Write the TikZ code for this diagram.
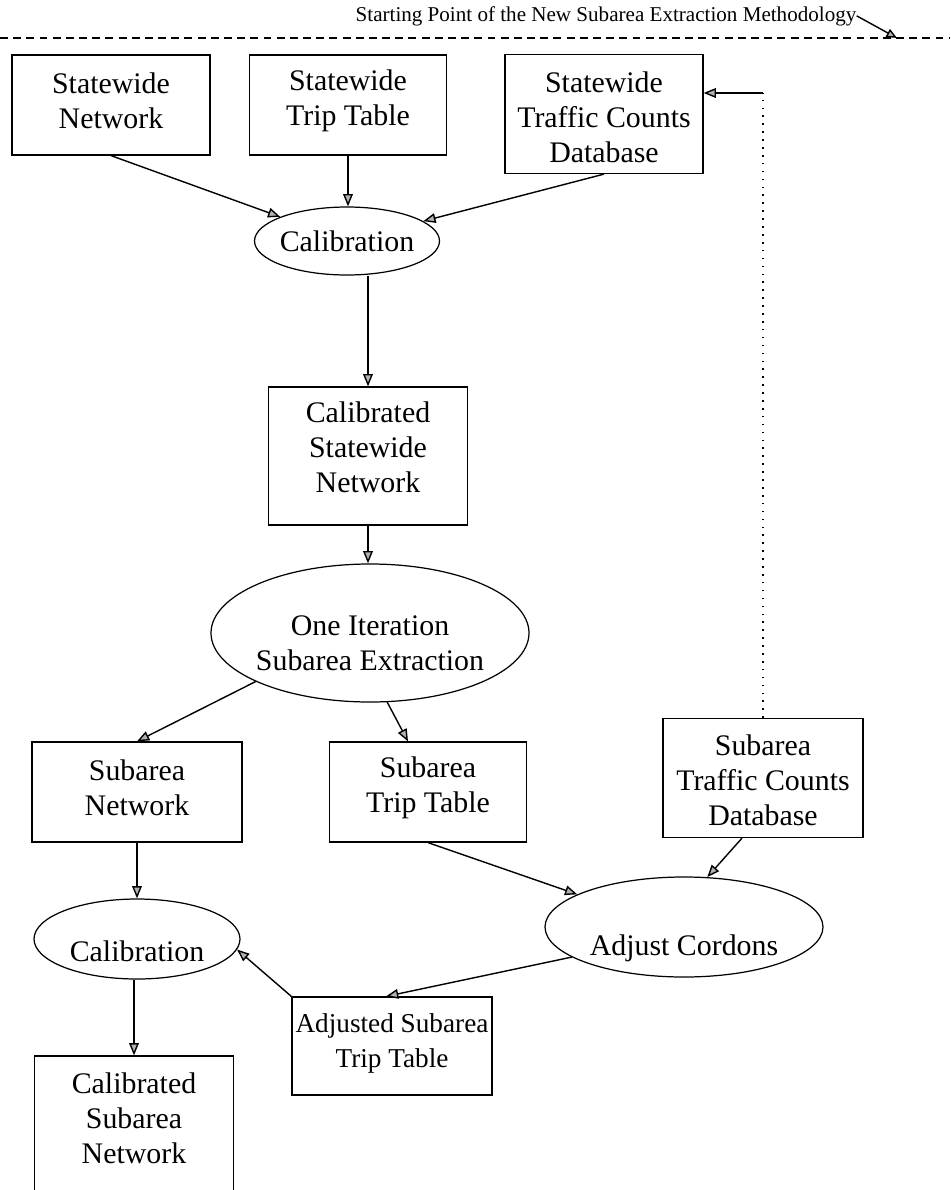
\documentclass[tikz,border=0pt]{standalone}
\usepackage{fontspec}
\setmainfont{Liberation Serif}
\usetikzlibrary{shapes.geometric,arrows.meta,calc}
\begin{document}
\begin{tikzpicture}[x=0.02cm,y=-0.02cm,
  box/.style={draw, line width=0.7pt, inner sep=0pt},
  oval/.style={ellipse, draw, line width=0.7pt, inner sep=0pt},
  sz/.style 2 args={minimum width=#1*0.02cm, minimum height=#2*0.02cm},
  txt/.style={align=center, font=\fontsize{17}{19.9}\selectfont, inner sep=0pt},
  arr/.style={-{Triangle[length=7pt,width=5.5pt,fill=gray!60]}, line width=0.8pt},
  dashline/.style={line width=0.7pt, dash pattern=on 4.5pt off 3pt},
  dotline/.style={line width=0.9pt, dash pattern=on 0.9pt off 3.6pt}
]
\useasboundingbox (0,0) rectangle (950,1190);
\fill[white] (0,0) rectangle (950,1190);

% top annotation
\coordinate (dl) at (0,38);
\coordinate (dr) at (950,38);
\draw[dashline] (dl) -- (dr);
\node[inner sep=0pt, font=\fontsize{12}{14}\selectfont, anchor=base] (start) at (606,21) {Starting Point of the New Subarea Extraction Methodology};
\coordinate (stip) at (897,38);
\draw[arr, -{Triangle[length=6pt,width=5pt,fill=gray!60]}] (start.east) -- (stip);

% boxes and ovals
\node[box, sz={198}{100}] (b1) at (111,105) {};
\node[txt] (t1) at (111,101) {Statewide\\Network};
\node[box, sz={197}{100}] (b2) at (348,105) {};
\node[txt] (t2) at (348,101) {Statewide\\Trip Table};
\node[box, sz={198}{119}] (b3) at (604,114) {};
\node[txt] (t3) at (604,117) {Statewide\\Traffic Counts\\Database};

\node[oval, sz={185}{68}] (e1) at (347,241) {};
\node[txt] (te1) at (347,241) {Calibration};

\node[box, sz={199}{138}] (b4) at (368,456) {};
\node[txt] (t4) at (368,447) {Calibrated\\Statewide\\Network};

\node[oval, sz={318}{138}] (e2) at (370,633) {};
\node[txt] (te2) at (370,643) {One Iteration\\Subarea Extraction};

\node[box, sz={210}{100}] (b5) at (137,792) {};
\node[txt] (t5) at (137,788) {Subarea\\Network};
\node[box, sz={197}{100}] (b6) at (428,792) {};
\node[txt] (t6) at (428,788) {Subarea\\Trip Table};
\node[box, sz={200}{119}] (b7) at (763,778) {};
\node[txt] (t7) at (763,780) {Subarea\\Traffic Counts\\Database};

\node[oval, sz={278}{100}] (e3) at (684,927) {};
\node[txt] (te3) at (684,948) {Adjust Cordons};

\node[oval, sz={206}{80}] (e4) at (137,939) {};
\node[txt] (te4) at (137,951) {Calibration};

\node[box, sz={200}{98}] (b8) at (392,1046) {};
\node[txt, font=\fontsize{15.5}{19.9}\selectfont] (t8) at (392,1043) {Adjusted Subarea\\Trip Table};

\node[box, sz={199}{138}] (b9) at (134,1125) {};
\node[txt] (t9) at (134,1118) {Calibrated\\Subarea\\Network};

% connectors
\draw[arr] (b1.south) -- (e1);
\draw[arr] (b2.south) -- (b2.south |- e1.north);
\draw[arr] (b3.south) -- (e1);
\draw[arr] (b4.north |- e1.south) -- (b4.north);
\draw[arr] (b4.south) -- (b4.south |- e2.north);
\draw[arr] (e2.-157) -- (b5.north);
\draw[arr] (e2.-76) -- ($(b6.north)+(-20,0)$);
\draw[arr] (b6.south) -- (e3.163);
\draw[arr] ($(b7.south)+(-21,0)$) -- (e3.65);
\draw[arr] (b5.south) -- (b5.south |- e4.north);
\draw[arr] (e3.-165) -- ($(b8.north)+(-6,0)$);
\draw[arr] (b8.north west) -- (e4.-6);
\draw[arr] (e4.south -| b9.north) -- (b9.north);

% feedback from subarea counts to statewide counts
\coordinate (fb) at (763,93);
\draw[dotline] (b7.north) -- (fb);
\draw[arr] (fb) -- (fb -| b3.east);
\end{tikzpicture}
\end{document}
